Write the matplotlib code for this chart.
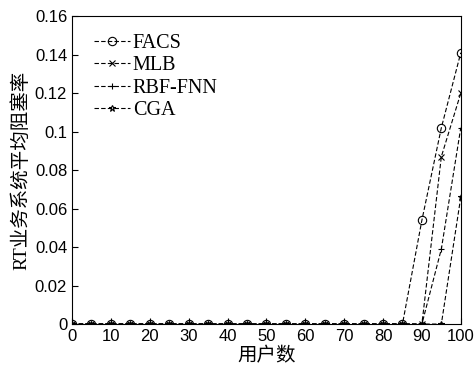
import numpy as np
import matplotlib.pyplot as plt
from matplotlib.ticker import FuncFormatter

# 数据
users = list(range(0, 101, 5))
facs = [0] * 18 + [0.054, 0.102, 0.141]
mlb = [0] * 19 + [0.087, 0.120]
rbf = [0] * 19 + [0.039, 0.102]
cga = [0] * 20 + [0.066]

series = [('FACS', facs, 'o'), ('MLB', mlb, 'x'), ('RBF-FNN', rbf, '+'), ('CGA', cga, '*')]

fig = plt.figure(figsize=(4.77, 3.67), dpi=100)
ax = fig.add_axes([0.151, 0.117, 0.815, 0.839])

for name, vals, mk in series:
    ms = 6 if mk == 'o' else 5
    ax.plot(users, vals, ls='--', color='k', lw=0.8, marker=mk, ms=ms,
            mfc='none', mec='k', mew=0.8, label=name, dashes=(4, 2))

ax.set_xlim(0, 100)
ax.set_ylim(0, 0.16)
ax.set_xticks(range(0, 101, 10))
ax.set_yticks(np.arange(0, 0.161, 0.02))
ax.yaxis.set_major_formatter(FuncFormatter(lambda v, p: '%g' % round(v, 2)))
ax.tick_params(direction='in', length=4, labelsize=12, width=0.8)
for lbl in ax.get_xticklabels() + ax.get_yticklabels():
    lbl.set_family('Liberation Sans')
for s in ax.spines.values():
    s.set_linewidth(0.8)

ax.set_xlabel('用户数', family=['Noto Sans CJK SC'], fontsize=14, labelpad=1)
ax.set_ylabel('RT业务系统平均阻塞率', family=['Liberation Serif', 'Noto Sans CJK SC'],
              fontsize=14, labelpad=3)

leg = ax.legend(loc='upper left', frameon=False, prop={'family': 'Liberation Serif', 'size': 14.5},
                handlelength=1.8, handletextpad=0.15, labelspacing=0.15,
                bbox_to_anchor=(0.009, 1.0))

fig.savefig('out.png', dpi=100, facecolor='w')
